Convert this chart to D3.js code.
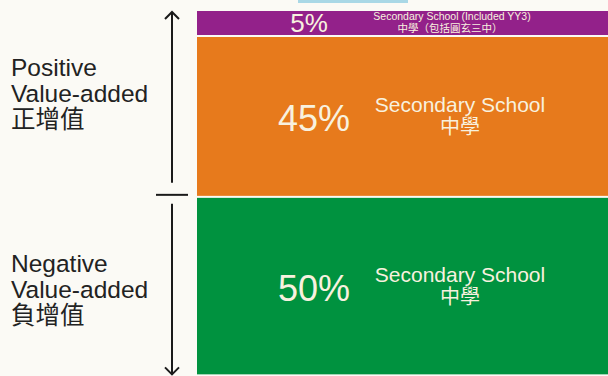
<!DOCTYPE html>
<html>
<head>
<meta charset="utf-8">
<script src="https://cdn.jsdelivr.net/npm/d3@7"></script>
<style>
	body { margin: 0; background: #fbfaf5; }
	svg { display: block; }
	text { font-family: "Liberation Sans", Arial, sans-serif; }
</style>
</head>
<body>
<svg id="chart" width="608" height="376"></svg>
<script>
// bands from top to bottom
var labelsEn = ["Secondary School (Included YY3)", "Secondary School", "Secondary School"];
var labelsZh = ["中學（包括圓玄三中）", "中學", "中學"];
var shares = [5, 45, 50];
var bandGroup = [0, 0, 1]; // which value-added group each band belongs to

var groupNames = [
	["Positive", "Value-added", "正增值"],
	["Negative", "Value-added", "負增值"]
];

var BAR_X = 197, BAR_W = 411, TOP = 11, GAP = 2, MIN_BAND = 24;
var colors = ["#93218a", "#e77a1c", "#00923f"];
var FONT = "'Liberation Sans', Arial, 'Noto Sans CJK TC', sans-serif";

var svg = d3.select("#chart");

// leftover light-blue tab cut off at the top edge
svg.append("rect")
	.attr("x", 298).attr("y", -4)
	.attr("width", 110).attr("height", 7)
	.attr("fill", "#a9d8e6");

var h = d3.scaleLinear().domain([0, 100]).range([0, 353]);

// stack the bands
var bands = [];
var y0 = TOP;
shares.forEach(function(v, i){
	var bh = Math.max(h(v), MIN_BAND);
	bands.push({i: i, value: v, y: y0, height: bh, en: labelsEn[i], zh: labelsZh[i], group: bandGroup[i]});
	y0 += bh + GAP;
});

var bandWrap = svg.selectAll(".band")
	.data(bands)
	.enter()
	.append("g")
	.classed("band", true)
	.attr("transform", function(d){
		return "translate(" + BAR_X + "," + d.y + ")";
	});

bandWrap.append("rect")
	.attr("width", BAR_W)
	.attr("height", function(d){ return d.height; })
	.attr("fill", function(d){ return colors[d.i]; });

// big percent
bandWrap.append("text")
	.attr("x", function(d){ return d.height < 40 ? 112 : 117; })
	.attr("y", function(d){ return d.height < 40 ? d.height / 2 + 9 : d.height / 2 + 15; })
	.attr("text-anchor", "middle")
	.attr("fill", "#f8f1df")
	.style("font-family", FONT)
	.style("font-size", function(d){ return d.height < 40 ? "26px" : "36px"; })
	.text(function(d){ return d.value + "%"; });

// english label
bandWrap.append("text")
	.attr("x", function(d){ return d.height < 40 ? 255 : 263; })
	.attr("y", function(d){ return d.height < 40 ? d.height / 2 - 3 : d.height / 2 - 4; })
	.attr("text-anchor", "middle")
	.attr("fill", "#f8f1df")
	.style("font-family", FONT)
	.style("font-size", function(d){ return d.height < 40 ? "10.5px" : "21px"; })
	.text(function(d){ return d.en; });

// chinese label
bandWrap.append("text")
	.attr("x", function(d){ return d.height < 40 ? 253 : 263; })
	.attr("y", function(d){ return d.height < 40 ? d.height / 2 + 9 : d.height / 2 + 18; })
	.attr("text-anchor", "middle")
	.attr("fill", "#f8f1df")
	.style("font-family", FONT)
	.style("font-size", function(d){ return d.height < 40 ? "10.5px" : "20px"; })
	.text(function(d){ return d.zh; });

// group extents
var groups = groupNames.map(function(names, g){
	var members = bands.filter(function(b){ return b.group == g; });
	var top = members[0].y;
	var last = members[members.length - 1];
	return {names: names, top: top, bottom: last.y + last.height, g: g};
});

var divider = groups[0].bottom + GAP / 2 - 2;
var AX = 172;

var arrows = svg.append("g")
	.attr("stroke", "#1a1a1a")
	.attr("stroke-width", 2)
	.attr("fill", "none");

arrows.append("line")
	.attr("x1", AX).attr("x2", AX)
	.attr("y1", groups[0].top + 1).attr("y2", divider - 12);
arrows.append("path")
	.attr("d", "M" + (AX - 7) + "," + (groups[0].top + 8) + "L" + AX + "," + (groups[0].top + 1) + "L" + (AX + 7) + "," + (groups[0].top + 8));

arrows.append("line")
	.attr("x1", 156).attr("x2", 188)
	.attr("y1", divider).attr("y2", divider);

arrows.append("line")
	.attr("x1", AX).attr("x2", AX)
	.attr("y1", divider + 9).attr("y2", groups[1].bottom);
arrows.append("path")
	.attr("d", "M" + (AX - 7) + "," + (groups[1].bottom - 7) + "L" + AX + "," + groups[1].bottom + "L" + (AX + 7) + "," + (groups[1].bottom - 7));

// group labels on the left
var groupText = svg.selectAll(".group-label")
	.data(groups)
	.enter()
	.append("text")
	.classed("group-label", true)
	.attr("fill", "#222")
	.style("font-family", FONT)
	.style("font-size", "24.5px");

groupText.selectAll("tspan")
	.data(function(d){
		var mid = (d.top + d.bottom) / 2;
		var first = d.g == 0 ? d.top + 65 : mid - 14;
		return d.names.map(function(n, i){ return {text: n, y: first + i * 26}; });
	})
	.enter()
	.append("tspan")
	.attr("x", 11)
	.attr("y", function(d){ return d.y; })
	.text(function(d){ return d.text; });
</script>
</body>
</html>
